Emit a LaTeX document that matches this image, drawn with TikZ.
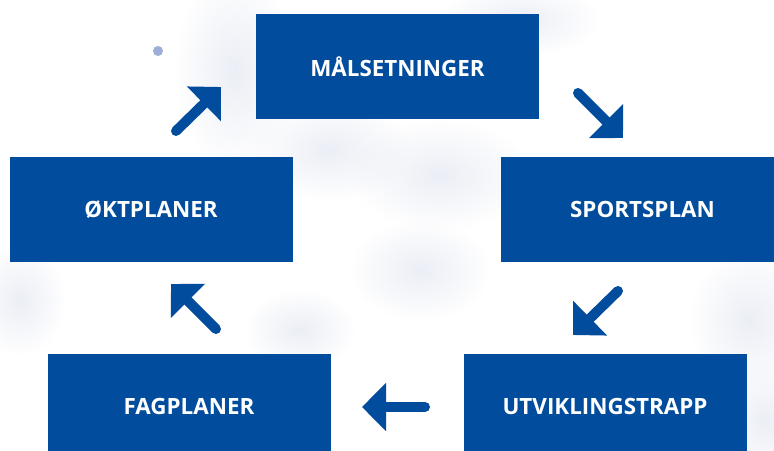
\documentclass[tikz,border=0pt]{standalone}
\usepackage{fontspec}
\setmainfont{Open Sans}
\usetikzlibrary{arrows.meta,fadings}

\definecolor{fgblue}{HTML}{014C9C}
\definecolor{dotblue}{HTML}{9CAFD6}
\definecolor{bgtint}{HTML}{E3E7F2}
\newcommand{\boxfont}{\fontsize{22.4}{26}\selectfont\bfseries}
\tikzfading[name=flekkfade, inner color=transparent!30, outer color=transparent!100]

\begin{document}
\begin{tikzpicture}[x=1pt, y=-1pt,
            blk/.style={
              fill=fgblue,
              text=white,
              inner sep=0pt,
              minimum width=283,
              minimum height=105,
              font=\boxfont
            },
            pil/.style={
              draw=fgblue,
              line width=10,
              line cap=round,
              -{Triangle[width=47pt,length=24pt]}
            },
            flekk/.style={
              fill=bgtint,
              path fading=flekkfade
            }
        ]
\useasboundingbox (0,0) rectangle (774,450);
\clip (0,0) rectangle (774,450);
\fill[white] (0,0) rectangle (774,450);

% watercolour background
\foreach \x/\y/\rx/\ry in {235/70/60/100, 330/150/80/50, 440/175/90/55, 520/20/80/35,
    750/320/60/70, 765/420/50/60, 300/330/55/40, 20/300/45/55, 420/270/70/50}
    \fill[flekk] (\x,\y) ellipse ({\rx} and {\ry});
\fill[dotblue] (158,51) circle (5);

\node[blk] (mal)   at (397.5, 66.5) {MÅLSETNINGER};
\node[blk] (sport) at (642.5,209.5) {SPORTSPLAN};
\node[blk] (utv)   at (605,  406.5) {UTVIKLINGSTRAPP};
\node[blk] (fag)   at (189,  406.5) {FAGPLANER};
\node[blk] (okt)   at (151,  209.5) {ØKTPLANER};

\coordinate (p1) at (176,131); \coordinate (q1) at (221,87);
\coordinate (p2) at (578,93);  \coordinate (q2) at (623,138);
\coordinate (p3) at (618,291); \coordinate (q3) at (573,335);
\coordinate (p4) at (425,407); \coordinate (q4) at (362,407);
\coordinate (p5) at (216,329); \coordinate (q5) at (171,284);

\foreach \i in {1,...,5}
    \draw[pil] (p\i) -- (q\i);

\end{tikzpicture}
\end{document}
